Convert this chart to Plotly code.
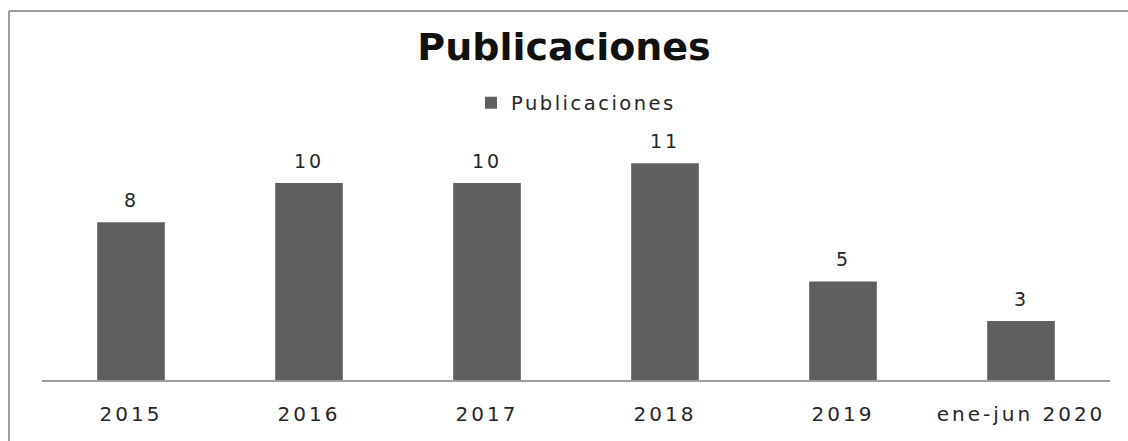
import plotly.graph_objects as go

# Publicaciones por periodo
categories = ["2015", "2016", "2017", "2018", "2019", "ene-jun 2020"]
publicaciones = [8, 10, 10, 11, 5, 3]
series_name = "Publicaciones"
chart_title = "Publicaciones"

W, H = 1128, 441
M_L, M_R, M_T, M_B = 42, 18, 140, 61
plot_w = W - M_L - M_R
plot_h = H - M_T - M_B
y_max = 12.18

FONT = "DejaVu Sans"
BAR = "#5f5f5f"
TEXT = "#262626"
FRAME = "#9c9c9c"


def spaced(text, px):
    """Wrap text in a span with extra letter spacing."""
    return '<span style="letter-spacing:%spx">%s</span>' % (px, text)


fig = go.Figure()
fig.add_trace(go.Bar(
    x=categories,
    y=publicaciones,
    name=spaced(series_name, 2.5),
    marker=dict(color=BAR, line=dict(width=0)),
    showlegend=True,
))

# value labels above each bar (category axis positions are serial indices)
for idx, val in enumerate(publicaciones):
    fig.add_annotation(
        x=idx, y=val, text=spaced(val, 3), showarrow=False,
        xref="x", yref="y",
        yanchor="bottom", yshift=9,
        font=dict(family=FONT, size=19, color=TEXT),
    )


def px_x(px):
    return (px - M_L) / plot_w


def px_y(py):
    return (H - M_B - py) / plot_h


# chart frame (top and left edges)
fig.add_shape(type="line", xref="paper", yref="paper",
              x0=px_x(9), x1=px_x(W + 5), y0=px_y(11), y1=px_y(11),
              line=dict(color=FRAME, width=2))
fig.add_shape(type="line", xref="paper", yref="paper",
              x0=px_x(9), x1=px_x(9), y0=px_y(11), y1=px_y(H + 5),
              line=dict(color=FRAME, width=2))

fig.update_layout(
    width=W, height=H,
    margin=dict(l=M_L, r=M_R, t=M_T, b=M_B, autoexpand=False),
    paper_bgcolor="white", plot_bgcolor="white",
    bargap=0.62,
    title=dict(text="<b>" + chart_title + "</b>", x=0.5, xanchor="center",
               y=1 - 47 / H, yanchor="middle", yref="container",
               font=dict(family=FONT, size=38, color="#111111")),
    legend=dict(orientation="h", x=0.5, xanchor="center",
                y=px_y(103), yanchor="middle",
                font=dict(family=FONT, size=19.5, color=TEXT),
                itemwidth=30, bgcolor="rgba(0,0,0,0)"),
    xaxis=dict(type="category", range=[-0.5, len(categories) - 0.5],
               showline=True, linecolor=FRAME, linewidth=2,
               showgrid=False, ticks="", ticklabelstandoff=15,
               tickangle=0,
               tickvals=categories,
               ticktext=[spaced(c, 3) for c in categories],
               tickfont=dict(family=FONT, size=20, color=TEXT)),
    yaxis=dict(range=[0, y_max], visible=False, showgrid=False),
)

fig.write_html("out.html")
